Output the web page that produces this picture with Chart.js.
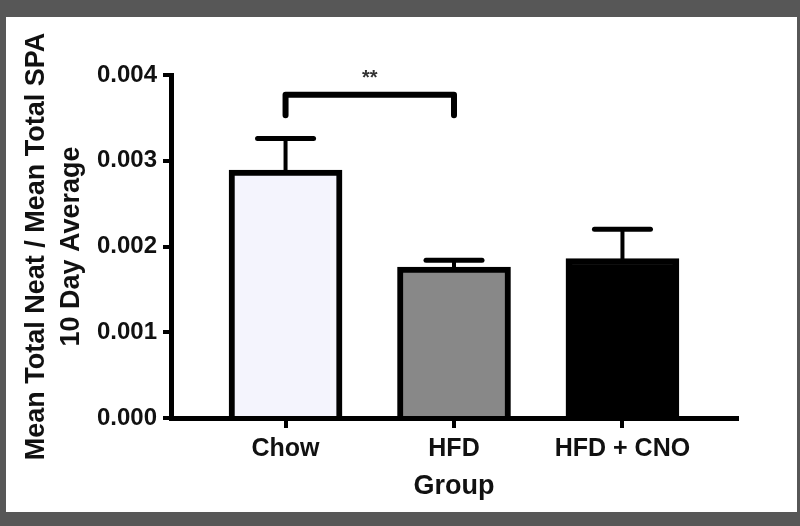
<!DOCTYPE html>
<html>
<head>
<meta charset="utf-8">
<script src="https://cdn.jsdelivr.net/npm/chart.js@4"></script>
<style>
    html, body { margin: 0; padding: 0; background: #575757; }
    #wrap { width: 800px; height: 526px; }
</style>
</head>
<body>
<div id="wrap"><canvas id="chart" width="800" height="526"></canvas></div>
<script>
Chart.defaults.font.family = "'Liberation Sans', Arial, sans-serif";
Chart.defaults.font.weight = "bold";
Chart.defaults.color = "#111";

const groups = ["Chow", "HFD", "HFD + CNO"];
const means = [0.00289, 0.00176, 0.00186];
const sem = [0.00037, 0.00008, 0.00034];
const fills = ["#f4f4fd", "#888888", "#000000"];
const yTicks = [0, 0.001, 0.002, 0.003, 0.004];

// significance bracket: [from, to, label]
const sigPairs = [[0, 1, "**"]];
const sigTop = 0.00377;
const sigLeg = 0.00353;

const colors = {
    frame: "#575757",
    paper: "#ffffff",
    ink: "#000000",
};

const paperPlugin = {
    id: "paper",
    beforeDraw(chart) {
        const ctx = chart.ctx;
        ctx.save();
        ctx.fillStyle = colors.frame;
        ctx.fillRect(0, 0, chart.width, chart.height);
        ctx.fillStyle = colors.paper;
        ctx.fillRect(6, 17, 791, 495);
        ctx.restore();
    },
};

const errorBarPlugin = {
    id: "errorBars",
    afterDatasetsDraw(chart) {
        const ctx = chart.ctx;
        const y = chart.scales.y;
        const meta = chart.getDatasetMeta(0);
        ctx.save();
        ctx.strokeStyle = colors.ink;
        ctx.lineCap = "round";
        meta.data.forEach((bar, i) => {
            const top = y.getPixelForValue(means[i] + sem[i]);
            ctx.lineWidth = 4;
            ctx.beginPath();
            ctx.moveTo(bar.x, bar.y);
            ctx.lineTo(bar.x, top);
            ctx.stroke();
            ctx.lineWidth = 5;
            ctx.beginPath();
            ctx.moveTo(bar.x - 28, top);
            ctx.lineTo(bar.x + 28, top);
            ctx.stroke();
        });

        // bracket
        const x = chart.scales.x;
        sigPairs.forEach(([a, b, label]) => {
            const x1 = x.getPixelForValue(a);
            const x2 = x.getPixelForValue(b);
            const yt = y.getPixelForValue(sigTop);
            const yl = y.getPixelForValue(sigLeg);
            ctx.lineWidth = 6;
            ctx.lineJoin = "round";
            ctx.beginPath();
            ctx.moveTo(x1, yl);
            ctx.lineTo(x1, yt);
            ctx.lineTo(x2, yt);
            ctx.lineTo(x2, yl);
            ctx.stroke();
            ctx.fillStyle = "#333";
            ctx.font = "bold 20px 'Liberation Sans', Arial, sans-serif";
            ctx.textAlign = "center";
            ctx.textBaseline = "middle";
            ctx.fillText(label, (x1 + x2) / 2, yt - 16);
        });
        ctx.restore();
    },
};

new Chart(document.getElementById("chart"), {
    type: "bar",
    data: {
        datasets: [{
            data: means.map((v, i) => ({ x: i, y: v })),
            backgroundColor: fills,
            borderColor: colors.ink,
            borderWidth: 6,
            barThickness: 113,
        }],
    },
    options: {
        responsive: false,
        animation: false,
        layout: {
            padding: { left: 6, right: 63, top: 75, bottom: 14 },
        },
        plugins: {
            legend: { display: false },
            tooltip: { enabled: false },
        },
        scales: {
            x: {
                type: "linear",
                min: -0.68,
                max: 2.68,
                offset: false,
                afterBuildTicks: (scale) => {
                    scale.ticks = groups.map((g, i) => ({ value: i }));
                },
                afterFit: (scale) => { scale.height = 94; },
                ticks: {
                    callback: (v) => groups[v],
                    font: { size: 25, weight: "bold" },
                    padding: 6,
                    color: "#111",
                },
                grid: {
                    offset: false,
                    drawOnChartArea: false,
                    color: colors.ink,
                    lineWidth: 4,
                    tickLength: 10,
                },
                border: { color: colors.ink, width: 5 },
                title: {
                    display: true,
                    text: "Group",
                    font: { size: 27, weight: "bold" },
                    padding: { top: 0, bottom: 9 },
                    color: "#111",
                },
            },
            y: {
                min: 0,
                max: 0.004,
                afterBuildTicks: (scale) => {
                    scale.ticks = yTicks.map((v) => ({ value: v }));
                },
                afterFit: (scale) => { scale.width = 165; },
                ticks: {
                    callback: (v) => v.toFixed(3),
                    font: { size: 24, weight: "bold" },
                    padding: 6,
                    color: "#111",
                },
                grid: {
                    drawOnChartArea: false,
                    color: colors.ink,
                    lineWidth: 4,
                    tickLength: 8,
                },
                border: { color: colors.ink, width: 5 },
                title: {
                    display: true,
                    text: ["Mean Total Neat / Mean Total SPA", "10 Day Average"],
                    font: { size: 27, weight: "bold", lineHeight: 1.3 },
                    padding: { top: 13, bottom: 0 },
                    color: "#111",
                },
            },
        },
    },
    plugins: [paperPlugin, errorBarPlugin],
});
</script>
</body>
</html>
